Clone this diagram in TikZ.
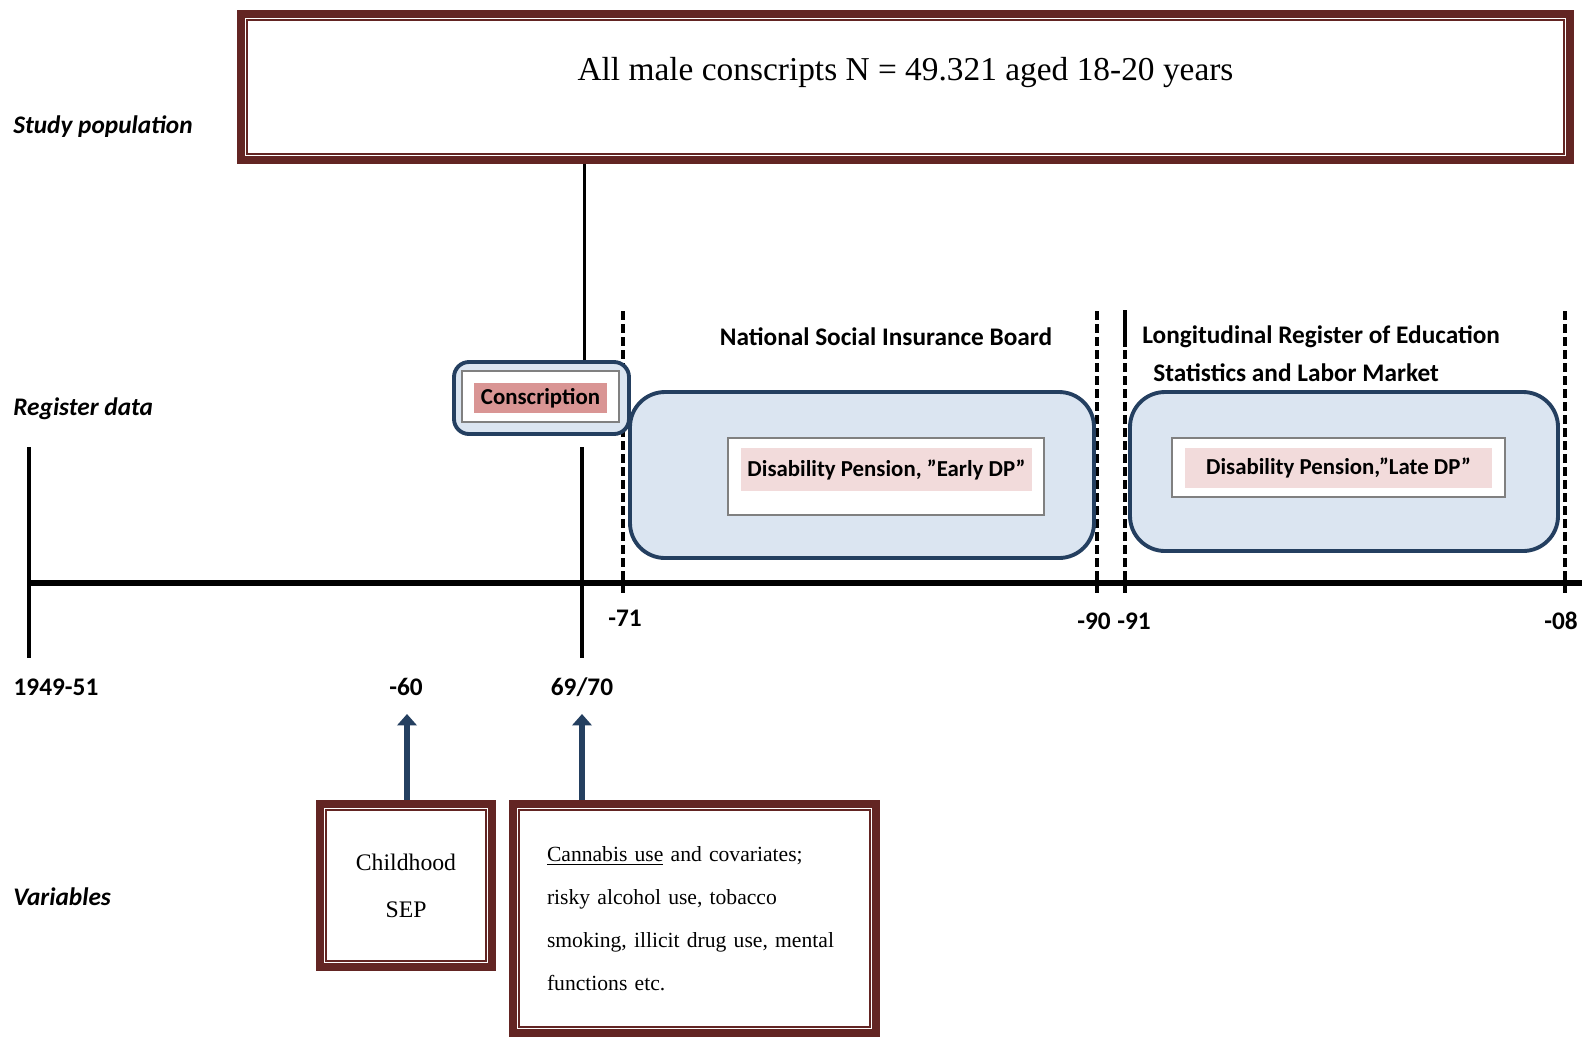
\documentclass[tikz,border=0pt]{standalone}
\usepackage{fontspec}
\setmainfont{Liberation Serif}
\setsansfont{Carlito}
\usetikzlibrary{arrows.meta,positioning}

\definecolor{framered}{HTML}{632523}
\definecolor{regblue}{HTML}{243F60}
\definecolor{regfill}{HTML}{DBE5F1}
\definecolor{hlstrong}{HTML}{D99594}
\definecolor{hllight}{HTML}{F2DBDB}

\tikzset{
  lab/.style={font=\sffamily\bfseries\fontsize{14.4}{17}\selectfont, inner sep=0pt},
  rowlab/.style={font=\sffamily\bfseries\itshape\fontsize{14.4}{17}\selectfont, anchor=west, inner sep=0pt},
  redframe/.style={draw=framered, line width=4.2pt, fill=white, inner sep=0pt},
  thinframe/.style={draw=framered, line width=1.1pt},
  regbox/.style={draw=regblue, line width=2.2pt, fill=regfill, rounded corners=#1},
  whitebox/.style={draw=gray, line width=0.6pt, fill=white},
  hl/.style={font=\sffamily\bfseries\fontsize{13}{15}\selectfont, fill=#1, inner sep=0pt},
  tick/.style={line width=2.3pt},
  period/.style={line width=2.1pt, dash pattern=on 5pt off 2.4pt},
  uparrow/.style={draw=regblue, line width=3.8pt, -{Triangle[width=11pt,length=6.5pt]}},
}

\begin{document}
\begin{tikzpicture}
\useasboundingbox (0,0) rectangle (31.64,-20.74);

\node[rowlab] (studylab) at (0.26,-2.54) {Study population};
\node[rowlab] (reglab) at (0.26,-8.18) {Register data};
\node[rowlab] (varlab) at (0.26,-17.94) {Variables};

\node[redframe, minimum width=26.58cm, minimum height=2.92cm, text height=0.5cm, text depth=0.78cm, font=\fontsize{19}{23}\selectfont] (pop) at (18.11,-1.74) {All male conscripts N = 49.321 aged 18-20 years};
\draw[thinframe] ([shift={(0.2,-0.2)}]pop.north west) rectangle ([shift={(-0.2,0.2)}]pop.south east);

\coordinate (t4951) at (0.58,-11.66);
\coordinate (t6970) at (11.64,-11.66);
\coordinate (cline) at (11.68,0);
\draw[line width=3.4pt] (t4951) -- (31.64,-11.66);
\draw[tick] (0.58,-8.94) -- (0.58,-13.16);
\draw[tick] (11.64,-8.94) -- (11.64,-13.16);

\foreach \x in {12.46,21.94,22.5,31.3}
  \draw[period] (\x,-6.22) -- (\x,-11.9);
\draw[line width=2.1pt] (22.5,-6.2) -- (22.5,-6.94);

\node[lab] (l4951) at (1.12,-13.74) {1949-51};
\node[lab] (l60) at (8.12,-13.74) {-60};
\node[lab] (l6970) at (11.64,-13.74) {69/70};
\node[lab] (l71) at (12.5,-12.36) {-71};
\node[lab] (l90) at (21.88,-12.42) {-90};
\node[lab] (l91) at (22.68,-12.42) {-91};
\node[lab] (l08) at (31.22,-12.42) {-08};

\node[regbox=0.3cm, minimum width=3.5cm, minimum height=1.44cm] (conscbox) at (10.83,-7.96) {};
\node[whitebox, minimum width=3.14cm, minimum height=1.02cm] (conscframe) at (10.81,-7.93) {};
\node[hl=hlstrong, minimum width=2.66cm, minimum height=0.6cm] (consc) at (10.81,-7.96) {Conscription};
\draw[line width=1.7pt] (pop.south -| cline) -- (conscbox.north -| cline);

\node[lab] (nsib) at (17.72,-6.74) {National Social Insurance Board};
\node[regbox=0.7cm, minimum width=9.28cm, minimum height=3.32cm] (earlybox) at (17.24,-9.5) {};
\node[whitebox, minimum width=6.32cm, minimum height=1.54cm] (earlyframe) at (17.72,-9.53) {};
\node[hl=hllight, minimum width=5.82cm, minimum height=0.86cm] (early) at (17.73,-9.39) {Disability Pension, ”Early DP”};

\node[lab, anchor=west, align=left, font=\sffamily\bfseries\fontsize{14.4}{21.6}\selectfont] (lisa) at (22.84,-7.08) {Longitudinal Register of Education\\\hspace*{0.22cm}Statistics and Labor Market};
\node[regbox=0.7cm, minimum width=8.56cm, minimum height=3.18cm] (latebox) at (26.88,-9.43) {};
\node[whitebox, minimum width=6.66cm, minimum height=1.18cm] (lateframe) at (26.77,-9.35) {};
\node[hl=hllight, minimum width=6.14cm, minimum height=0.8cm] (late) at (26.77,-9.36) {Disability Pension,”Late DP”};

\node[redframe, minimum width=3.44cm, minimum height=3.26cm, align=center, font=\fontsize{13.5}{26.7}\selectfont] (sep) at (8.12,-17.71) {Childhood\\SEP};
\draw[thinframe] ([shift={(0.2,-0.2)}]sep.north west) rectangle ([shift={(-0.2,0.2)}]sep.south east);
\node[redframe, minimum width=7.26cm, minimum height=4.58cm, text width=5.9cm, align=left, inner xsep=0.68cm, font=\fontsize{12.3}{24.5}\selectfont] (vars) at (13.89,-18.37) {\underline{Cannabis use} and covariates;\\risky alcohol use, tobacco\\smoking, illicit drug use, mental\\functions etc.};
\draw[thinframe] ([shift={(0.2,-0.2)}]vars.north west) rectangle ([shift={(-0.2,0.2)}]vars.south east);

\coordinate (a60) at (8.14,-14.28);
\coordinate (a6970) at (11.64,-14.28);
\draw[uparrow] (sep.north -| a60) -- (a60);
\draw[uparrow] (vars.north -| a6970) -- (a6970);
\end{tikzpicture}
\end{document}
